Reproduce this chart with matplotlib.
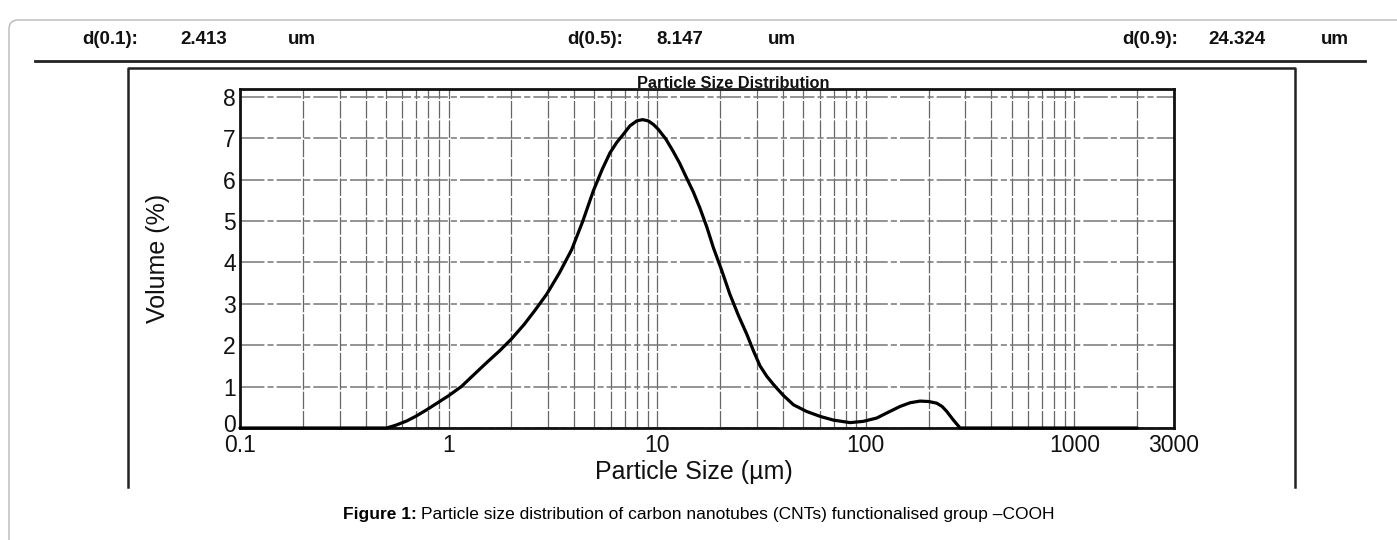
import numpy as np
import matplotlib
matplotlib.use("Agg")
import matplotlib.pyplot as plt
from matplotlib.lines import Line2D
from matplotlib.patches import FancyBboxPatch
from matplotlib.transforms import IdentityTransform, ScaledTranslation
from matplotlib.ticker import FixedLocator, NullFormatter

plt.rcParams['font.family'] = ['Liberation Sans', 'DejaVu Sans']

# ---- data ----
size_um = [0.1, 0.3, 0.505, 0.56, 0.63, 0.70, 0.785, 0.88, 1.0, 1.15, 1.31, 1.5,
           1.76, 2.0, 2.3, 2.6, 2.95, 3.4, 3.89, 4.4, 4.94, 5.45, 5.94, 6.4,
           6.89, 7.4, 7.98, 8.5, 9.06, 9.6, 10.1, 11.0, 11.9, 12.8, 13.8, 14.9,
           16.0, 17.3, 18.6, 20.4, 22.3, 24.5, 26.9, 29.0, 31.1, 33.5, 36.1,
           40.0, 45.0, 52.0, 60.4, 70.0, 84.0, 97.0, 112.7, 128.0, 145.8, 163.0,
           181.8, 200.0, 218.6, 232.0, 244.3, 262.0, 283.0, 500.0, 1000.0, 2000.0]
volume_pct = [0.0, 0.0, 0.0, 0.07, 0.17, 0.29, 0.44, 0.60, 0.78, 1.0, 1.27, 1.55,
              1.87, 2.15, 2.5, 2.85, 3.23, 3.75, 4.31, 5.0, 5.73, 6.25, 6.65, 6.9,
              7.1, 7.3, 7.42, 7.45, 7.42, 7.33, 7.22, 6.98, 6.69, 6.4, 6.05, 5.7,
              5.32, 4.85, 4.35, 3.8, 3.23, 2.72, 2.26, 1.85, 1.5, 1.25, 1.05,
              0.8, 0.56, 0.4, 0.28, 0.19, 0.13, 0.16, 0.24, 0.38, 0.52, 0.61,
              0.65, 0.64, 0.60, 0.52, 0.40, 0.2, 0.0, 0.0, 0.0, 0.0]
xticks = [0.1, 1, 10, 100, 1000, 3000]
xtick_labels = ['0.1', '1', '10', '100', '1000', '3000']
minor_x = [m * 10.0 ** e for e in range(-1, 3) for m in range(2, 10)] + [2000]
yticks = [0, 1, 2, 3, 4, 5, 6, 7, 8]
header = [("d(0.1):", "2.413", "um"), ("d(0.5):", "8.147", "um"), ("d(0.9):", "24.324", "um")]

W, H = 1397, 540
fig = plt.figure(figsize=(W / 100, H / 100), dpi=100)

def fx(x):
    return x / W

def fy(y):
    return 1 - y / H

# outer rounded frame
fig.add_artist(FancyBboxPatch((9, -40), 1450, 540 - 11 + 40 - 9,
                              boxstyle="round,pad=0,rounding_size=9",
                              transform=IdentityTransform(), fill=False,
                              edgecolor='#b8b8b8', linewidth=1.0))

# header text
hx = [(110, 204, 302), (595, 680, 782), (1150, 1237, 1335)]
for (lab, val, unit), (x1, x2, x3) in zip(header, hx):
    for t, x in ((lab, x1), (val, x2), (unit, x3)):
        fig.text(fx(x), fy(40), t, ha='center', va='center', fontsize=13.5,
                 fontweight='bold', color='#111')

# header rule
fig.add_artist(Line2D([fx(35), fx(1365)], [fy(61), fy(61)], color='#222', lw=2.0))
# inner box
fig.add_artist(Line2D([fx(128), fx(128), fx(1295), fx(1295)],
                      [fy(487), fy(68), fy(68), fy(487)], color='#222', lw=1.8))

# axes
left, right, top, bottom = 240, 1174, 89, 428
ax = fig.add_axes([fx(left), fy(bottom), (right - left) / W, (bottom - top) / H])
ax.set_xscale('log')
ax.set_xlim(0.1, 3000)
ax.set_ylim(0, 8.19)

ax.plot(size_um, volume_pct, color='black', lw=2.3, solid_capstyle='round',
        solid_joinstyle='round', zorder=5, clip_on=False)

ax.xaxis.set_major_locator(FixedLocator(xticks))
ax.set_xticklabels(xtick_labels)
ax.xaxis.set_minor_locator(FixedLocator(minor_x))
ax.xaxis.set_minor_formatter(NullFormatter())
ax.set_yticks(yticks)

ax.grid(True, which='both', axis='x', color='#666666', lw=0.9, ls=(0, (14, 1.5)))
ax.grid(True, which='major', axis='y', color='#777777', lw=1.1, ls=(0, (16, 2, 4, 2)))
ax.set_axisbelow(True)

ax.tick_params(axis='both', which='both', length=0, labelsize=16.5, colors='#111')
ax.tick_params(axis='x', pad=4)
ax.tick_params(axis='y', pad=3)
for s in ax.spines.values():
    s.set_linewidth(2.0)
    s.set_color('#111')

# lift the "0" label slightly as in the reference
fig.canvas.draw()
lab0 = ax.get_yticklabels()[0]
lab0.set_transform(lab0.get_transform() + ScaledTranslation(0, 5 / 100, fig.dpi_scale_trans))

ax.set_xlabel('Particle Size (µm)', fontsize=18, labelpad=5, color='#111')
ax.xaxis.set_label_coords((694 - left) / (right - left), -0.095)
ax.set_ylabel('Volume (%)', fontsize=18, labelpad=38, color='#111')

# chart title
fig.text(fx(733), fy(83), 'Particle Size Distribution', ha='center', va='center',
         fontsize=11.8, fontweight='bold', color='#111')
fig.add_artist(Line2D([fx(637), fx(829)], [fy(90), fy(90)], color='#222', lw=1.2))

# caption
fig.text(fx(343), fy(515), 'Figure 1:', ha='left', va='center', fontsize=12.5, fontweight='bold')
fig.text(fx(421), fy(515), 'Particle size distribution of carbon nanotubes (CNTs) functionalised group –COOH',
         ha='left', va='center', fontsize=12.5)

fig.savefig('out.png', dpi=100, facecolor='white')
